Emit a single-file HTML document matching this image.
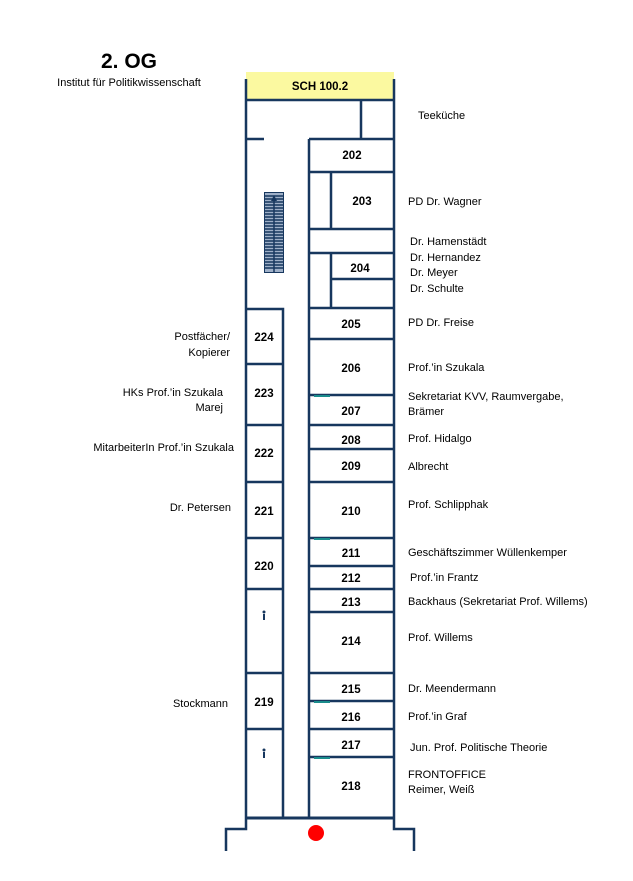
<!DOCTYPE html>
<html><head><meta charset="utf-8"><style>
body{margin:0;background:#fff;}
svg{display:block;font-family:"Liberation Sans",sans-serif;}
.n{font-weight:bold;font-size:11.5px;fill:#000;text-anchor:middle;}
.l{font-size:11px;fill:#000;}
.r{font-size:11px;fill:#000;text-anchor:end;}
</style></head><body>
<svg width="633" height="881" viewBox="0 0 633 881">
<text x="129" y="68" style="font-weight:bold;font-size:21px;text-anchor:middle">2. OG</text>
<text x="129" y="86" style="font-size:11px;text-anchor:middle">Institut für Politikwissenschaft</text>
<rect x="246" y="72" width="148" height="28" fill="#fbf9a0"/>
<text x="320" y="90" class="n">SCH 100.2</text>
<g stroke="#17375e" stroke-width="2.5" fill="none">
<path d="M246 79 V818 M394 79 V818"/>
<path d="M246 100 H394 M361 100 V139 M246 139 H264 M309 139 H394 M309 139 V818"/>
<path d="M309 172 H394 M331 172 V229 M309 229 H394 M309 253 H394 M331 253 V307 M331 279 H394 M309 308 H394"/>
<path d="M309 339 H394 M309 395 H394 M309 425 H394 M309 449 H394 M309 482 H394 M309 538 H394 M309 566 H394 M309 589 H394 M309 612 H394 M309 673 H394 M309 701 H394 M309 729 H394 M309 757 H394"/>
<path d="M246 309 H283 V818 M246 364 H283 M246 425 H283 M246 482 H283 M246 538 H283 M246 589 H283 M246 673 H283 M246 729 H283"/>
<path d="M246 818 H394" stroke-width="3"/>
<path d="M246 818 V829 H226 V851 M394 818 V829 H414 V851"/>
</g>
<g stroke="#1a8c8c" stroke-width="2"><path d="M314 396H330 M314 539H330 M314 702H330 M314 758H330"/></g>
<g stroke="#17375e" stroke-width="1" fill="none">
<rect x="264.5" y="192.5" width="19" height="80" fill="#9fb0c8"/>
<path d="M264 196H284M264 199H284M264 202H284M264 205H284M264 208H284M264 211H284M264 214H284M264 217H284M264 220H284M264 223H284M264 226H284M264 229H284M264 232H284M264 235H284M264 238H284M264 241H284M264 244H284M264 247H284M264 250H284M264 253H284M264 256H284M264 259H284M264 262H284M264 265H284M264 268H284" stroke="#17375e" stroke-width="1.5"/>
<path d="M274 198 V272" stroke-width="1.5"/>
</g>
<path d="M274 195 L271 201 H277 Z" fill="#17375e"/>
<circle cx="316" cy="833" r="8" fill="#f00"/>
<g fill="#17375e"><circle cx="264" cy="612" r="1.5"/><rect x="263" y="614" width="2" height="6"/><circle cx="264" cy="750" r="1.5"/><rect x="263" y="752" width="2" height="6"/></g>
<text x="352" y="159" class="n">202</text>
<text x="362" y="205" class="n">203</text>
<text x="360" y="272" class="n">204</text>
<text x="351" y="328" class="n">205</text>
<text x="351" y="372" class="n">206</text>
<text x="351" y="415" class="n">207</text>
<text x="351" y="444" class="n">208</text>
<text x="351" y="470" class="n">209</text>
<text x="351" y="515" class="n">210</text>
<text x="351" y="557" class="n">211</text>
<text x="351" y="582" class="n">212</text>
<text x="351" y="606" class="n">213</text>
<text x="351" y="645" class="n">214</text>
<text x="351" y="693" class="n">215</text>
<text x="351" y="721" class="n">216</text>
<text x="351" y="749" class="n">217</text>
<text x="351" y="790" class="n">218</text>
<text x="264" y="341" class="n">224</text>
<text x="264" y="397" class="n">223</text>
<text x="264" y="457" class="n">222</text>
<text x="264" y="515" class="n">221</text>
<text x="264" y="570" class="n">220</text>
<text x="264" y="706" class="n">219</text>
<text x="418" y="119" class="l">Teeküche</text>
<text x="408" y="205" class="l">PD Dr. Wagner</text>
<text x="410" y="245" class="l">Dr. Hamenstädt</text>
<text x="410" y="261" class="l">Dr. Hernandez</text>
<text x="410" y="276" class="l">Dr. Meyer</text>
<text x="410" y="292" class="l">Dr. Schulte</text>
<text x="408" y="326" class="l">PD Dr. Freise</text>
<text x="408" y="371" class="l">Prof.’in Szukala</text>
<text x="408" y="400" class="l">Sekretariat KVV, Raumvergabe,</text>
<text x="408" y="415" class="l">Brämer</text>
<text x="408" y="442" class="l">Prof. Hidalgo</text>
<text x="408" y="470" class="l">Albrecht</text>
<text x="408" y="508" class="l">Prof. Schlipphak</text>
<text x="408" y="556" class="l">Geschäftszimmer Wüllenkemper</text>
<text x="410" y="581" class="l">Prof.’in Frantz</text>
<text x="408" y="605" class="l">Backhaus (Sekretariat Prof. Willems)</text>
<text x="408" y="641" class="l">Prof. Willems</text>
<text x="408" y="692" class="l">Dr. Meendermann</text>
<text x="408" y="720" class="l">Prof.’in Graf</text>
<text x="410" y="751" class="l">Jun. Prof. Politische Theorie</text>
<text x="408" y="778" class="l">FRONTOFFICE</text>
<text x="408" y="793" class="l">Reimer, Weiß</text>
<text x="230" y="340" class="r">Postfächer/</text>
<text x="230" y="356" class="r">Kopierer</text>
<text x="223" y="396" class="r">HKs Prof.’in Szukala</text>
<text x="223" y="411" class="r">Marej</text>
<text x="234" y="451" class="r">MitarbeiterIn Prof.’in Szukala</text>
<text x="231" y="511" class="r">Dr. Petersen</text>
<text x="228" y="707" class="r">Stockmann</text>
</svg>
</body></html>
